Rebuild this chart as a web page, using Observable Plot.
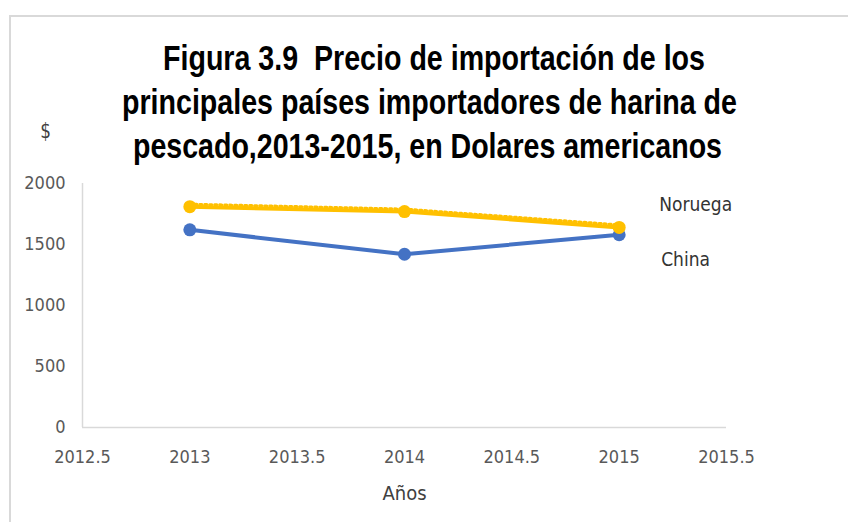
<!DOCTYPE html>
<html>
<head>
<meta charset="utf-8">
<script src="https://cdn.jsdelivr.net/npm/d3@7"></script>
<script src="https://cdn.jsdelivr.net/npm/@observablehq/plot@0.6"></script>
<style>
  html, body { margin: 0; padding: 0; background: #fff; }
  #wrap { position: relative; width: 848px; height: 522px; overflow: hidden; }
  #frame { position: absolute; left: 9px; top: 15px; width: 850px; height: 520px;
           border-left: 2px solid #d9d9d9; border-top: 2px solid #d9d9d9; box-sizing: border-box; }
  #title { position: absolute; left: 0; width: 860px; top: 36px;
           font-family: "Liberation Sans", Arial, sans-serif;
           font-weight: bold; font-size: 35px; line-height: 44px; color: #000; }
  #title .ln { position: absolute; left: 0; white-space: nowrap; transform-origin: 0 0; }
  #ylab { position: absolute; left: 39px; top: 119px; font-family: "DejaVu Sans", sans-serif;
          font-size: 21px; color: #404040; transform: scaleX(0.8); }
  #chart { position: absolute; left: 0; top: 0; }
</style>
</head>
<body>
<div id="wrap">
  <div id="frame"></div>
  <div id="chart"></div>
  <div id="title"></div>
  <div id="ylab">$</div>
</div>
<script>
const years = [2013, 2014, 2015];
const noruega = [1810, 1770, 1640];
const china = [1620, 1420, 1580];
const seriesNames = ["Noruega", "China"];
const xTicks = [2012.5, 2013, 2013.5, 2014, 2014.5, 2015, 2015.5];
const yTicks = [0, 500, 1000, 1500, 2000];
const xLabel = "Años";
const titleLines = [
  "Figura 3.9\u00a0 Precio de importación de los",
  "principales países importadores de harina de",
  "pescado,2013-2015, en Dolares americanos"
];

// title: condensed look by horizontal scaling to the reference widths
const titleBox = [[163, 705], [122, 737], [133, 722]];
const tdiv = document.getElementById("title");
titleLines.forEach((t, i) => {
  const s = document.createElement("span");
  s.className = "ln";
  s.textContent = t;
  s.style.top = (i * 44) + "px";
  tdiv.appendChild(s);
  const w = s.getBoundingClientRect().width;
  const [a, b] = titleBox[i];
  const k = (b - a) / w;
  s.style.left = a + "px";
  s.style.transform = `scaleX(${k})`;
});

const colors = { Noruega: "#FFC000", China: "#4472C4" };
const rows = [];
years.forEach((y, i) => rows.push({ year: y, value: noruega[i], series: seriesNames[0] }));
years.forEach((y, i) => rows.push({ year: y, value: china[i], series: seriesNames[1] }));
const nor = rows.filter(d => d.series === "Noruega");
const chi = rows.filter(d => d.series === "China");
const lastNor = nor.slice(-1);
const lastChi = chi.slice(-1);

const font = '"DejaVu Sans Condensed", "DejaVu Sans", sans-serif';

const plot = Plot.plot({
  width: 848,
  height: 522,
  marginLeft: 82,
  marginRight: 122,
  marginTop: 183,
  marginBottom: 95,
  style: { fontFamily: font, fontSize: "18px", color: "#595959", background: "transparent", fontStretch: "condensed" },
  x: { domain: [2012.5, 2015.5], label: null },
  y: { domain: [0, 2000], label: null },
  marks: [
    Plot.ruleY([0], { stroke: "#d9d9d9", strokeWidth: 1.5 }),
    Plot.ruleX([2012.5], { stroke: "#d9d9d9", strokeWidth: 1.5 }),
    Plot.axisY({ ticks: yTicks, tickSize: 0, tickPadding: 17, tickFormat: d => String(d), fontSize: 18, fill: "#595959", label: null }),
    Plot.axisX({ ticks: xTicks, tickSize: 0, tickPadding: 23, tickFormat: d => String(d), fontSize: 18, fill: "#595959", label: null }),
    Plot.text([xLabel], { frameAnchor: "bottom", dy: 72, text: d => d, fontSize: 20, fill: "#404040" }),
    Plot.line(chi, { x: "year", y: "value", stroke: colors.China, strokeWidth: 4 }),
    Plot.dot(chi, { x: "year", y: "value", r: 6.5, fill: colors.China }),
    Plot.line(nor, { x: "year", y: "value", stroke: colors.Noruega, strokeWidth: 4 }),
    Plot.line(nor, { x: "year", y: "value", stroke: colors.Noruega, strokeWidth: 3, strokeDasharray: "2,3", dy: -2.5 }),
    Plot.dot(nor, { x: "year", y: "value", r: 6.5, fill: colors.Noruega }),
    Plot.text(lastNor, { x: "year", y: "value", text: "series", textAnchor: "start", dx: 40, dy: -23, fontSize: 19, fill: "#333333" }),
    Plot.text(lastChi, { x: "year", y: "value", text: "series", textAnchor: "start", dx: 42, dy: 25, fontSize: 19, fill: "#333333" })
  ]
});
document.getElementById("chart").appendChild(plot);
</script>
</body>
</html>
